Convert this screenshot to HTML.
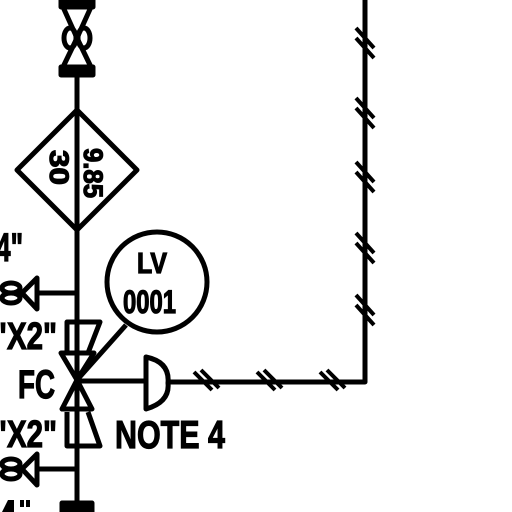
<!DOCTYPE html>
<html><head><meta charset="utf-8"><style>
html,body{margin:0;padding:0;background:#fff;width:512px;height:512px;overflow:hidden;}
svg{display:block;overflow:hidden;}
text{font-family:"Liberation Sans",sans-serif;font-weight:bold;fill:#000;stroke:#000;stroke-width:1.2;}
</style></head><body>
<svg width="512" height="512" viewBox="0 0 512 512" xmlns="http://www.w3.org/2000/svg">
<g fill="none" stroke="#000" stroke-width="5" stroke-linejoin="round">
  <line x1="77" y1="74" x2="77" y2="512"/>
  <g>
    <rect x="61" y="0" width="32" height="7" fill="#000"/>
    <rect x="61" y="67" width="32" height="8" fill="#000"/>
    <path d="M63 7 L91 7 L77 38 Z M63 67 L91 67 L77 38 Z"/>
    <ellipse cx="70" cy="38" rx="6" ry="10"/>
    <ellipse cx="84" cy="38" rx="6" ry="10"/>
  </g>
  <path d="M77 110 L137 170 L77 230 L17 170 Z"/>
  <circle cx="157" cy="282" r="50"/>
  <line x1="77" y1="380" x2="126" y2="325"/>
  <g>
    <path d="M61 353 L94 353 L77 380 Z"/>
    <path d="M62 409 L92 409 L77 380 Z"/>
    <path d="M67 353 L67 322 L100 322 L88 353"/>
    <path d="M67 412 L67 446 L100 446 L88 412"/>
  </g>
  <line x1="77" y1="381" x2="146" y2="381"/>
  <path d="M146 357 L146 409 Q170 402 168 383 Q170 362 146 357 Z"/>
  <path d="M168 382 L365 382 L365 0"/>
  <g stroke-width="4">
    <path d="M194 372 L212 390 M201 370 L219 388"/>
    <path d="M257 372 L275 390 M264 370 L282 388"/>
    <path d="M320 372 L338 390 M327 370 L345 388"/>
    <path d="M356 28 L374 48 M356 38 L374 58"/>
    <path d="M356 98 L374 118 M356 108 L374 128"/>
    <path d="M356 162 L374 182 M356 172 L374 192"/>
    <path d="M356 233 L374 253 M356 243 L374 263"/>
    <path d="M356 295 L374 315 M356 305 L374 325"/>
  </g>
  <g>
    <line x1="37" y1="293" x2="77" y2="293"/>
    <path d="M37 278 L37 309 L22 293 Z"/>
    <ellipse cx="11" cy="288" rx="9" ry="5"/>
    <ellipse cx="11" cy="298" rx="9" ry="5"/>
  </g>
  <g>
    <line x1="37" y1="469" x2="77" y2="469"/>
    <path d="M37 454 L37 485 L22 469 Z"/>
    <ellipse cx="11" cy="464" rx="9" ry="5"/>
    <ellipse cx="11" cy="474" rx="9" ry="5"/>
  </g>
  <rect x="62" y="503" width="30" height="9" fill="#000"/>
</g>
<text x="0" y="0" font-size="27" textLength="35" lengthAdjust="spacingAndGlyphs" transform="translate(50 150) rotate(90)">30</text>
<text x="0" y="0" font-size="27" textLength="50" lengthAdjust="spacingAndGlyphs" transform="translate(84 148) rotate(90)">9.85</text>
<text x="137" y="273" font-size="29" textLength="30" lengthAdjust="spacingAndGlyphs">LV</text>
<text x="123" y="313" font-size="32" textLength="53" lengthAdjust="spacingAndGlyphs">0001</text>
<text x="-4" y="261" font-size="40" textLength="27" lengthAdjust="spacingAndGlyphs">4"</text>
<text x="-7" y="349" font-size="38" textLength="64" lengthAdjust="spacingAndGlyphs">"X2"</text>
<text x="18" y="398" font-size="40" textLength="37" lengthAdjust="spacingAndGlyphs">FC</text>
<text x="-7" y="447" font-size="38" textLength="64" lengthAdjust="spacingAndGlyphs">"X2"</text>
<text x="115" y="448" font-size="39" textLength="110" lengthAdjust="spacingAndGlyphs">NOTE 4</text>
<path d="M2 512 L8 500 L14 500 L14 512 Z M20 500 h4 v7 h-4 Z M26 500 h4 v7 h-4 Z" fill="#000"/>
</svg>
</body></html>
